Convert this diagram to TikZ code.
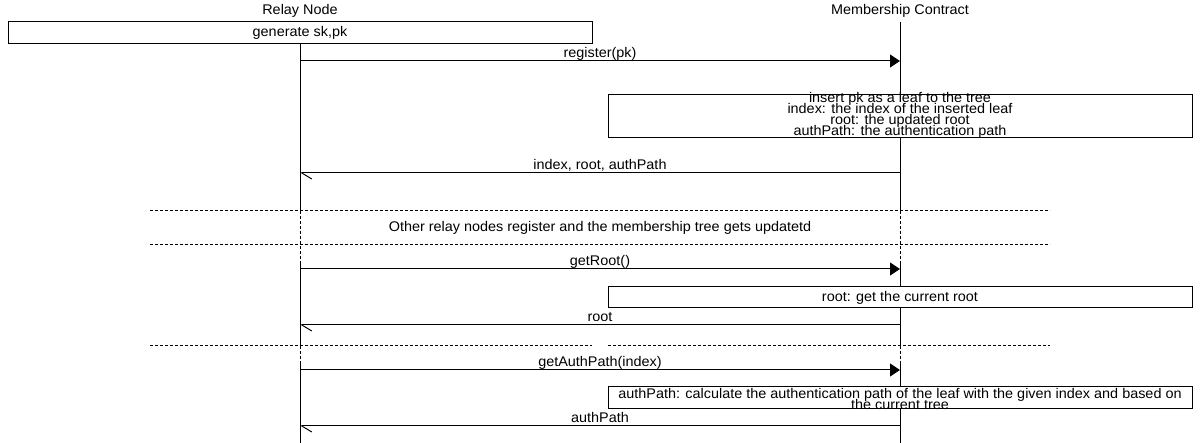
\documentclass[tikz,border=0pt]{standalone}
\usepackage{fontspec}
\setmainfont{Liberation Sans}[FakeStretch=1.03]
\usetikzlibrary{arrows.meta}
\newcommand\tightlines{\setlength{\lineskiplimit}{-100pt}\setlength{\lineskip}{0pt}}

\begin{document}
\begin{tikzpicture}[x=1pt, y=-1pt, line width=1pt,
        font=\fontsize{14}{11}\selectfont,
        actbox/.style={draw, fill=white, minimum width=584pt, inner sep=0pt},
        boxtext/.style={align=center, font=\fontsize{14}{11}\selectfont\tightlines},
        msg/.style={-{Triangle[length=10pt, width=13pt]}},
        reply/.style={-{Straight Barb[harpoon, length=10pt, width=12pt]}},
        lbl/.style={anchor=base, yshift=3.5pt, inner sep=0pt},
        sep/.style={dash pattern=on 3pt off 2pt}]
    \useasboundingbox (0,0) rectangle (1200,443);

    \node (rn) at (300,10.8) {Relay Node};
    \node (mc) at (900,10.8) {Membership Contract};

    \foreach \x in {300, 900} {
        \draw (\x,22) -- (\x,211);
        \draw[sep] (\x,211) -- (\x,261);
        \draw (\x,261) -- (\x,346);
        \draw[sep] (\x,346) -- (\x,362);
        \draw (\x,362) -- (\x,443);
    };

    \foreach \n/\y in {reg/61, ack/173, get/269, root/325, path/370, auth/426} {
        \coordinate (rn-\n) at (300,\y);
        \coordinate (mc-\n) at (900,\y);
    };

    \node[actbox, minimum height=22pt] (gen) at (300,33) {generate sk,pk};

    \draw[msg] (rn-reg) -- node[lbl] {register(pk)} (mc-reg);

    \node[actbox, minimum height=43pt] (ins) at (900,116.5) {};
    \node[boxtext] (insl) at (900,115.6) {insert pk as a leaf to the tree\\index: the index of the inserted leaf\\root: the updated root\\authPath: the authentication path};

    \draw[reply] (mc-ack) -- node[lbl] {index, root, authPath} (rn-ack);

    \draw[sep] (150,211) -- (1050,211);
    \draw[sep] (150,245) -- (1050,245);
    \node (upd) at (600,228) {Other relay nodes register and the membership tree gets updatetd};

    \draw[msg] (rn-get) -- node[lbl] {getRoot()} (mc-get);
    \node[actbox, minimum height=21pt] (cur) at (900,297.5) {root: get the current root};
    \draw[reply] (mc-root) -- node[lbl] {root} (rn-root);

    \draw[sep] (150,346) -- (592,346);
    \draw[sep] (608,346) -- (1050,346);

    \draw[msg] (rn-path) -- node[lbl] {getAuthPath(index)} (mc-path);
    \node[actbox, minimum height=22pt] (calc) at (900,398) {};
    \node[boxtext] (calcl) at (900,399) {authPath: calculate the authentication path of the leaf with the given index and based on\\the current tree};
    \draw[reply] (mc-auth) -- node[lbl] {authPath} (rn-auth);
\end{tikzpicture}
\end{document}
